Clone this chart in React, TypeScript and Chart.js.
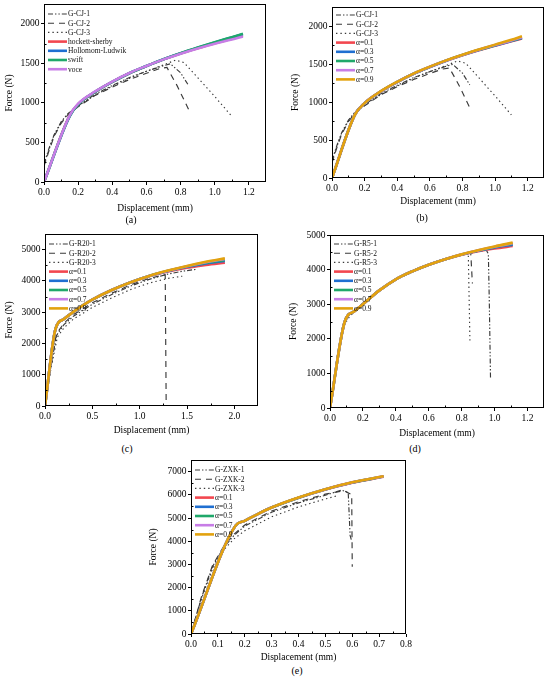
import React, { useEffect, useRef } from "react";
import { Chart, registerables } from "chart.js";

Chart.register(...registerables);

// ---------------- DATA ----------------
// tick values
const abXTicks = [0, 0.2, 0.4, 0.6, 0.8, 1.0, 1.2];
const abYTicks = [0, 500, 1000, 1500, 2000];
const cXTicks = [0, 0.5, 1.0, 1.5, 2.0];
const cYTicks = [0, 1000, 2000, 3000, 4000, 5000];
const dXTicks = [0, 0.2, 0.4, 0.6, 0.8, 1.0, 1.2];
const dYTicks = [0, 1000, 2000, 3000, 4000, 5000];
const eXTicks = [0, 0.1, 0.2, 0.3, 0.4, 0.5, 0.6, 0.7, 0.8];
const eYTicks = [0, 1000, 2000, 3000, 4000, 5000, 6000, 7000];

// (a) and (b): G-CJ experiments
const cj1X = [0, 0.03, 0.06, 0.1, 0.14, 0.2, 0.3, 0.4, 0.5, 0.6, 0.7, 0.74, 0.8, 0.845];
const cj1Y = [230, 430, 600, 760, 865, 965, 1110, 1220, 1320, 1400, 1470, 1495, 1380, 1225];
const cj2X = [0, 0.03, 0.06, 0.1, 0.14, 0.2, 0.3, 0.4, 0.5, 0.6, 0.68, 0.72, 0.78, 0.855];
const cj2Y = [200, 400, 580, 740, 850, 950, 1095, 1200, 1295, 1375, 1435, 1448, 1215, 880];
const cj3X = [0, 0.03, 0.06, 0.1, 0.14, 0.2, 0.3, 0.4, 0.5, 0.6, 0.7, 0.77, 0.82, 0.9, 1.0, 1.1];
const cj3Y = [215, 415, 590, 750, 858, 958, 1100, 1210, 1310, 1400, 1480, 1540, 1510, 1320, 1080, 830];

// (a) constitutive models
const aModelX = [0, 0.15, 0.2, 0.3, 0.4, 0.5, 0.6, 0.7, 0.8, 0.9, 1.0, 1.1, 1.165];
const aHockettY = [0, 840, 985, 1140, 1265, 1375, 1465, 1550, 1625, 1692, 1755, 1810, 1848];
const aHollomonY = [0, 830, 980, 1140, 1265, 1375, 1466, 1552, 1628, 1698, 1765, 1828, 1868];
const aSwiftY = [0, 832, 982, 1140, 1265, 1375, 1466, 1552, 1628, 1699, 1767, 1831, 1873];
const aVoceY = [0, 840, 990, 1145, 1270, 1378, 1467, 1550, 1622, 1688, 1748, 1800, 1838];

// (b) alpha models
const bModelX = [0, 0.14, 0.2, 0.3, 0.4, 0.5, 0.6, 0.7, 0.8, 0.9, 1.0, 1.1, 1.165];
const bA01Y = [0, 830, 985, 1140, 1262, 1370, 1460, 1543, 1616, 1682, 1740, 1798, 1836];
const bA03Y = [0, 830, 985, 1140, 1263, 1371, 1461, 1544, 1617, 1684, 1744, 1802, 1841];
const bA05Y = [0, 830, 985, 1140, 1264, 1372, 1462, 1545, 1618, 1686, 1747, 1806, 1846];
const bA07Y = [0, 830, 985, 1140, 1265, 1372, 1463, 1546, 1619, 1687, 1749, 1809, 1852];
const bA09Y = [0, 830, 985, 1142, 1266, 1374, 1465, 1548, 1622, 1690, 1755, 1818, 1866];

// (c): G-R20 experiments
const r20aX = [0, 0.06, 0.12, 0.2, 0.3, 0.5, 0.7, 0.9, 1.1, 1.3, 1.45, 1.6];
const r20aY = [0, 1200, 2250, 2600, 2870, 3250, 3560, 3830, 4050, 4220, 4310, 4370];
const r20bX = [0, 0.06, 0.12, 0.2, 0.3, 0.5, 0.7, 0.9, 1.1, 1.27, 1.28];
const r20bY = [0, 1250, 2300, 2650, 2920, 3300, 3600, 3870, 4080, 4200, 60];
const r20cX = [0, 0.06, 0.13, 0.2, 0.3, 0.5, 0.7, 0.9, 1.1, 1.3, 1.45];
const r20cY = [0, 1150, 2200, 2500, 2780, 3150, 3450, 3720, 3930, 4080, 4150];
// (c) alpha models
const cModelX = [0, 0.11, 0.2, 0.3, 0.4, 0.5, 0.7, 0.9, 1.1, 1.3, 1.5, 1.7, 1.9];
const cA01Y = [0, 2450, 2780, 3010, 3220, 3400, 3700, 3950, 4150, 4300, 4420, 4510, 4580];
const cA03Y = [0, 2450, 2780, 3010, 3220, 3400, 3700, 3950, 4155, 4315, 4450, 4560, 4640];
const cA05Y = [0, 2450, 2780, 3010, 3220, 3400, 3700, 3950, 4158, 4322, 4462, 4580, 4670];
const cA07Y = [0, 2450, 2780, 3010, 3220, 3400, 3700, 3950, 4160, 4326, 4472, 4596, 4700];
const cA09Y = [0, 2450, 2780, 3010, 3220, 3400, 3700, 3950, 4160, 4330, 4480, 4610, 4720];

// (d): G-R5 experiments
const r5aX = [0, 0.04, 0.08, 0.12, 0.2, 0.3, 0.4, 0.5, 0.6, 0.7, 0.8, 0.9, 0.95, 0.962, 0.968, 0.975];
const r5aY = [0, 1300, 2400, 2700, 3020, 3400, 3710, 3940, 4130, 4290, 4420, 4530, 4560, 4450, 3000, 880];
const r5bX = [0, 0.04, 0.08, 0.12, 0.2, 0.3, 0.4, 0.5, 0.6, 0.7, 0.8, 0.855, 0.865];
const r5bY = [0, 1350, 2450, 2720, 3030, 3410, 3720, 3950, 4140, 4300, 4430, 4480, 3600];
const r5cX = [0, 0.04, 0.08, 0.12, 0.2, 0.3, 0.4, 0.5, 0.6, 0.7, 0.8, 0.84, 0.85];
const r5cY = [0, 1250, 2350, 2650, 3000, 3390, 3700, 3930, 4120, 4280, 4410, 4470, 1950];
// (d) alpha models
const dModelX = [0, 0.09, 0.15, 0.2, 0.3, 0.4, 0.5, 0.6, 0.7, 0.8, 0.9, 1.0, 1.11];
const dA01Y = [0, 2500, 2800, 3000, 3400, 3720, 3950, 4140, 4300, 4430, 4530, 4610, 4680];
const dA03Y = [0, 2500, 2800, 3000, 3400, 3720, 3950, 4140, 4300, 4435, 4545, 4640, 4720];
const dA05Y = [0, 2500, 2800, 3000, 3400, 3720, 3950, 4140, 4300, 4438, 4552, 4655, 4745];
const dA07Y = [0, 2500, 2800, 3000, 3400, 3720, 3950, 4140, 4300, 4440, 4556, 4662, 4762];
const dA09Y = [0, 2500, 2800, 3000, 3400, 3720, 3950, 4140, 4300, 4440, 4560, 4670, 4780];

// (e): G-ZXK experiments
const zxk1X = [0, 0.04, 0.08, 0.12, 0.16, 0.2, 0.3, 0.4, 0.5, 0.56, 0.585, 0.592, 0.598];
const zxk1Y = [0, 1600, 2900, 3700, 4250, 4650, 5250, 5650, 5980, 6200, 6100, 4250, 4000];
const zxk2X = [0, 0.04, 0.08, 0.12, 0.16, 0.2, 0.3, 0.4, 0.5, 0.57, 0.598, 0.6];
const zxk2Y = [0, 1650, 2950, 3750, 4300, 4700, 5300, 5700, 6030, 6180, 6000, 2900];
const zxk3X = [0, 0.04, 0.08, 0.12, 0.16, 0.2, 0.3, 0.4, 0.5, 0.545];
const zxk3Y = [0, 1550, 2800, 3600, 4100, 4450, 5050, 5480, 5820, 5960];
// (e) alpha models
const eModelX = [0, 0.165, 0.2, 0.25, 0.3, 0.4, 0.5, 0.6, 0.717];
const eA01Y = [0, 4660, 4880, 5180, 5450, 5875, 6230, 6525, 6780];
const eA03Y = [0, 4660, 4880, 5180, 5450, 5876, 6232, 6528, 6785];
const eA05Y = [0, 4660, 4880, 5180, 5450, 5877, 6235, 6532, 6790];
const eA07Y = [0, 4660, 4880, 5180, 5450, 5878, 6237, 6536, 6795];
const eA09Y = [0, 4660, 4880, 5180, 5450, 5880, 6240, 6540, 6800];

const alphaLabels = ["α=0.1", "α=0.3", "α=0.5", "α=0.7", "α=0.9"];
const modelLabelsA = ["hockett-sherby", "Hollomom-Ludwik", "swift", "voce"];

// ---------------- STYLE ----------------
const SERIF = "'Liberation Serif', 'Times New Roman', serif";
const EXP_COLOR = "#3a3a3a";
const RED = "#f2474f";
const BLUE = "#1f6fd1";
const GREEN = "#1fa86a";
const PURPLE = "#c77de6";
const ORANGE = "#e2a20e";
const ALPHA_COLORS = [RED, BLUE, GREEN, PURPLE, ORANGE];
const MODEL_COLORS_A = [RED, BLUE, GREEN, PURPLE];
const EXP_DASH = [
  [5, 2, 1.4, 2, 1.4, 2],
  [6, 5],
  [1.4, 3],
];

type Series = { label: string; x: number[]; y: number[]; exp?: number; color?: string };
type Panel = {
  key: string;
  caption: string;
  capX: number;
  capY: number;
  area: { l: number; t: number; r: number; b: number };
  yw: number;
  xh: number;
  pt: number;
  pr: number;
  xMax: number;
  yMax: number;
  xTicks: number[];
  yTicks: number[];
  legendY0: number;
  series: Series[];
};

const expSeries = (prefix: string, xs: number[][], ys: number[][]): Series[] =>
  xs.map((x, i) => ({ label: `${prefix}-${i + 1}`, x, y: ys[i], exp: i }));

const alphaSeries = (x: number[], ys: number[][]): Series[] =>
  ys.map((y, i) => ({ label: alphaLabels[i], x, y, color: ALPHA_COLORS[i] }));

const panels: Panel[] = [
  {
    key: "a",
    caption: "(a)",
    capX: 131,
    capY: 220,
    area: { l: 44, t: 4, r: 266, b: 182 },
    yw: 44,
    xh: 34,
    pt: 2,
    pr: 4,
    xMax: 1.3,
    yMax: 2250,
    xTicks: abXTicks,
    yTicks: abYTicks,
    legendY0: 10,
    series: [
      ...expSeries("G-CJ", [cj1X, cj2X, cj3X], [cj1Y, cj2Y, cj3Y]),
      ...[aHockettY, aHollomonY, aSwiftY, aVoceY].map((y, i) => ({
        label: modelLabelsA[i],
        x: aModelX,
        y,
        color: MODEL_COLORS_A[i],
      })),
    ],
  },
  {
    key: "b",
    caption: "(b)",
    capX: 422,
    capY: 218,
    area: { l: 332, t: 7, r: 544, b: 178 },
    yw: 46,
    xh: 31,
    pt: 2,
    pr: 4,
    xMax: 1.3,
    yMax: 2250,
    xTicks: abXTicks,
    yTicks: abYTicks,
    legendY0: 8,
    series: [
      ...expSeries("G-CJ", [cj1X, cj2X, cj3X], [cj1Y, cj2Y, cj3Y]),
      ...alphaSeries(bModelX, [bA01Y, bA03Y, bA05Y, bA07Y, bA09Y]),
    ],
  },
  {
    key: "c",
    caption: "(c)",
    capX: 127,
    capY: 449,
    area: { l: 45, t: 234, r: 258, b: 406 },
    yw: 45,
    xh: 32,
    pt: 2,
    pr: 4,
    xMax: 2.25,
    yMax: 5500,
    xTicks: cXTicks,
    yTicks: cYTicks,
    legendY0: 10,
    series: [
      ...expSeries("G-R20", [r20aX, r20bX, r20cX], [r20aY, r20bY, r20cY]),
      ...alphaSeries(cModelX, [cA01Y, cA03Y, cA05Y, cA07Y, cA09Y]),
    ],
  },
  {
    key: "d",
    caption: "(d)",
    capX: 415,
    capY: 449,
    area: { l: 330, t: 235, r: 544, b: 408 },
    yw: 46,
    xh: 33,
    pt: 7,
    pr: 4,
    xMax: 1.3,
    yMax: 5000,
    xTicks: dXTicks,
    yTicks: dYTicks,
    legendY0: 9,
    series: [
      ...expSeries("G-R5", [r5aX, r5bX, r5cX], [r5aY, r5bY, r5cY]),
      ...alphaSeries(dModelX, [dA01Y, dA03Y, dA05Y, dA07Y, dA09Y]),
    ],
  },
  {
    key: "e",
    caption: "(e)",
    capX: 297,
    capY: 671,
    area: { l: 191, t: 460, r: 406, b: 634 },
    yw: 47,
    xh: 31,
    pt: 4,
    pr: 10,
    xMax: 0.8,
    yMax: 7500,
    xTicks: eXTicks,
    yTicks: eYTicks,
    legendY0: 10,
    series: [
      ...expSeries("G-ZXK", [zxk1X, zxk2X, zxk3X], [zxk1Y, zxk2Y, zxk3Y]),
      ...alphaSeries(eModelX, [eA01Y, eA03Y, eA05Y, eA07Y, eA09Y]),
    ],
  },
];

const LEG_STEP = 9.2;

function makePlugin(p: Panel) {
  return {
    id: "frameLegend" + p.key,
    afterDraw(chart: any) {
      const ctx: CanvasRenderingContext2D = chart.ctx;
      const ca = chart.chartArea;
      ctx.save();
      // frame
      ctx.strokeStyle = "#000";
      ctx.lineWidth = 1;
      ctx.setLineDash([]);
      ctx.strokeRect(
        Math.round(ca.left) + 0.5,
        Math.round(ca.top) + 0.5,
        Math.round(ca.right - ca.left) - 1,
        Math.round(ca.bottom - ca.top) - 1
      );
      // minor ticks (inward), midway between major ticks
      const xs = chart.scales.x;
      const ys = chart.scales.y;
      ctx.beginPath();
      for (let i = 0; i < xs.ticks.length - 1; i++) {
        const v = (xs.ticks[i].value + xs.ticks[i + 1].value) / 2;
        const px = Math.round(xs.getPixelForValue(v)) + 0.5;
        ctx.moveTo(px, ca.bottom);
        ctx.lineTo(px, ca.bottom - 2.5);
      }
      for (let i = 0; i < ys.ticks.length - 1; i++) {
        const v = (ys.ticks[i].value + ys.ticks[i + 1].value) / 2;
        const py = Math.round(ys.getPixelForValue(v)) + 0.5;
        ctx.moveTo(ca.left, py);
        ctx.lineTo(ca.left + 2.5, py);
      }
      ctx.stroke();
      // legend
      ctx.font = `7.5px ${SERIF}`;
      ctx.textBaseline = "middle";
      ctx.textAlign = "left";
      chart.data.datasets.forEach((ds: any, i: number) => {
        const y = ca.top + p.legendY0 + i * LEG_STEP;
        const x0 = ca.left + 4;
        const x1 = x0 + 19;
        ctx.save();
        ctx.strokeStyle = ds.borderColor;
        ctx.lineWidth = ds.borderWidth;
        ctx.setLineDash(ds.borderDash || []);
        ctx.beginPath();
        ctx.moveTo(x0, y);
        ctx.lineTo(x1, y);
        ctx.stroke();
        ctx.restore();
        ctx.fillStyle = "#111";
        ctx.fillText(ds.label, x1 + 1, y + 0.5);
      });
      ctx.restore();
    },
  };
}

function ChartPanel({ p }: { p: Panel }) {
  const ref = useRef<HTMLCanvasElement | null>(null);
  const w = p.area.r - p.area.l + p.yw + p.pr;
  const h = p.area.b - p.area.t + p.pt + p.xh;

  useEffect(() => {
    const canvas = ref.current;
    if (!canvas) return;
    const nModels = p.series.filter((s) => s.exp === undefined).length;
    let mi = 0;
    const datasets = p.series.map((s) => {
      const data = s.x.map((x, i) => ({ x, y: s.y[i] }));
      if (s.exp !== undefined) {
        return {
          label: s.label,
          data,
          borderColor: EXP_COLOR,
          borderWidth: 1.15,
          borderDash: EXP_DASH[s.exp],
          pointRadius: 0,
          tension: 0,
          fill: false,
          order: 20,
        };
      }
      const order = nModels - mi;
      mi++;
      return {
        label: s.label,
        data,
        borderColor: s.color,
        borderWidth: 2.6,
        pointRadius: 0,
        cubicInterpolationMode: "monotone",
        fill: false,
        order,
      };
    });

    const tickFont = { family: SERIF, size: 9.5 };
    const gridOpts = {
      display: true,
      drawOnChartArea: false,
      drawTicks: true,
      tickLength: 3,
      color: "#000",
      lineWidth: 1,
    };
    const chart = new Chart(canvas, {
      type: "line",
      data: { datasets: datasets as any },
      options: {
        animation: false,
        responsive: false,
        events: [],
        layout: { padding: { top: p.pt, right: p.pr, left: 0, bottom: 0 } },
        plugins: {
          legend: { display: false },
          tooltip: { enabled: false },
          title: { display: false },
        },
        scales: {
          x: {
            type: "linear",
            min: 0,
            max: p.xMax,
            border: { display: false },
            grid: gridOpts,
            afterBuildTicks: (s: any) => {
              s.ticks = p.xTicks.map((v) => ({ value: v }));
            },
            ticks: {
              autoSkip: false,
              maxRotation: 0,
              padding: 2,
              color: "#000",
              font: tickFont,
              callback: (v: any) => Number(v).toFixed(1),
            },
            title: {
              display: true,
              text: "Displacement (mm)",
              color: "#000",
              font: { family: SERIF, size: 9.5 },
              padding: { top: 0, bottom: 2 },
            },
            afterFit: (s: any) => {
              s.height = p.xh;
              s.paddingLeft = 0;
              s.paddingRight = 0;
              s.paddingTop = 0;
              s.paddingBottom = 0;
            },
          },
          y: {
            type: "linear",
            min: 0,
            max: p.yMax,
            border: { display: false },
            grid: gridOpts,
            afterBuildTicks: (s: any) => {
              s.ticks = p.yTicks.map((v) => ({ value: v }));
            },
            ticks: {
              autoSkip: false,
              padding: 1.5,
              color: "#000",
              font: tickFont,
              callback: (v: any) => String(Math.round(Number(v))),
            },
            title: {
              display: true,
              text: "Force (N)",
              color: "#000",
              font: { family: SERIF, size: 9.5 },
              padding: { top: 4, bottom: 0 },
            },
            afterFit: (s: any) => {
              s.width = p.yw;
              s.paddingLeft = 0;
              s.paddingRight = 0;
              s.paddingTop = 0;
              s.paddingBottom = 0;
            },
          },
        },
      } as any,
      plugins: [makePlugin(p)],
    });
    return () => chart.destroy();
  }, []);

  return (
    <canvas
      ref={ref}
      width={w}
      height={h}
      style={{
        position: "absolute",
        left: p.area.l - p.yw,
        top: p.area.t - p.pt,
        width: w,
        height: h,
      }}
    />
  );
}

export default function App() {
  return (
    <div
      style={{
        position: "absolute",
        left: 0,
        top: 0,
        width: 550,
        height: 685,
        background: "#fff",
        overflow: "hidden",
      }}
    >
      {panels.map((p) => (
        <ChartPanel key={p.key} p={p} />
      ))}
      {panels.map((p) => (
        <div
          key={"cap" + p.key}
          style={{
            position: "absolute",
            left: p.capX - 20,
            top: p.capY - 6,
            width: 40,
            height: 12,
            lineHeight: "12px",
            textAlign: "center",
            fontFamily: SERIF,
            fontSize: 10,
            color: "#000",
          }}
        >
          {p.caption}
        </div>
      ))}
    </div>
  );
}
